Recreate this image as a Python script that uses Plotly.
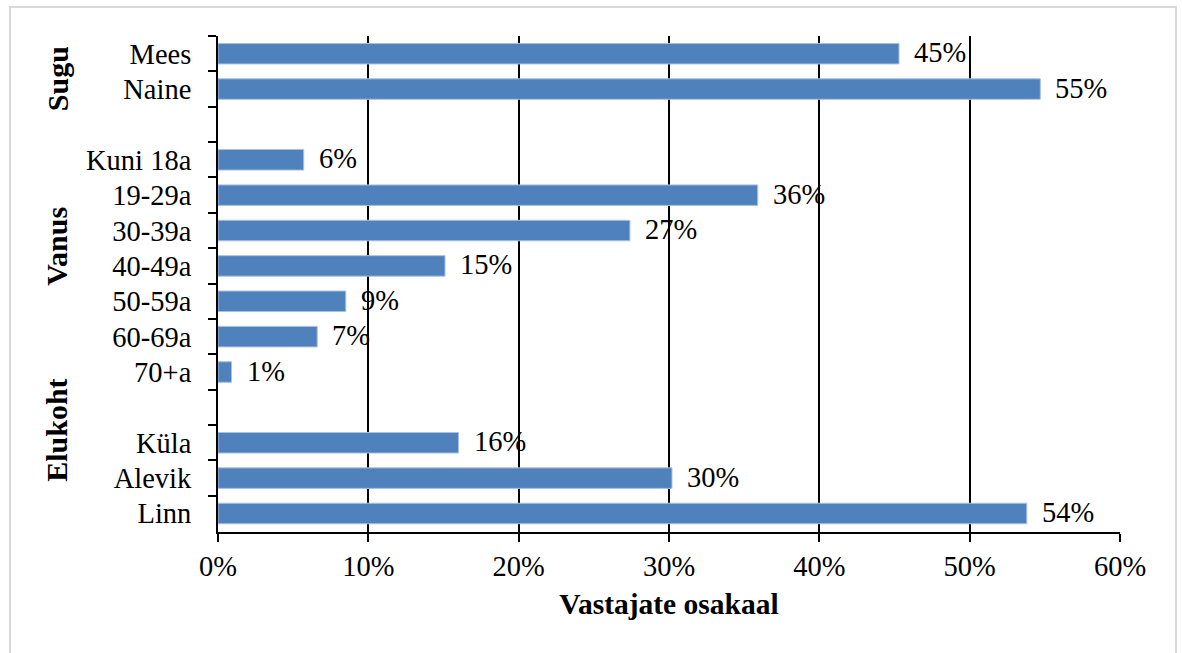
import plotly.graph_objects as go

# Kategooriad ülevalt alla; tühjad kohad rühmade vahel
categories = ["Mees", "Naine", " ", "Kuni 18a", "19-29a", "30-39a", "40-49a",
              "50-59a", "60-69a", "70+a", "  ", "Küla", "Alevik", "Linn"]
shares = [0.453, 0.547, None, 0.057, 0.359, 0.274, 0.151,
          0.085, 0.066, 0.009, None, 0.160, 0.302, 0.538]
labels = ["45%", "55%", "", "6%", "36%", "27%", "15%",
          "9%", "7%", "1%", "", "16%", "30%", "54%"]
groups = ["Sugu", "Vanus", "Elukoht"]
group_y = [0.915, 0.577, 0.206]

FONT = "Liberation Serif, Times New Roman, serif"
BAR = "#4F81BD"

fig = go.Figure(go.Bar(
    x=shares, y=categories, orientation="h", width=0.58,
    marker=dict(color=BAR, line=dict(color="#A9C1E0", width=1)),
    hoverinfo="skip",
))

for cat, val, lab in zip(categories, shares, labels):
    if val is None:
        continue
    fig.add_annotation(x=val, y=cat, text=lab, showarrow=False, xanchor="left",
                       xshift=13, yshift=1, font=dict(size=28.5, color="black", family=FONT))

for name, gy in zip(groups, group_y):
    fig.add_annotation(x=-0.1785, y=gy, xref="paper", yref="paper", text=f"<b>{name}</b>",
                       textangle=-90, showarrow=False, xanchor="center", yanchor="middle",
                       font=dict(size=30, color="black", family=FONT))

# hall raam ümber joonise
fig.add_shape(type="rect", xref="paper", yref="paper", x0=-0.2306, x1=1.0621, y0=-0.3, y1=1.0585,
              line=dict(color="#D9D9D9", width=2), layer="below")

fig.update_layout(
    width=1182, height=653,
    margin=dict(l=218, r=62, t=36, b=121),
    paper_bgcolor="white", plot_bgcolor="white",
    font=dict(family=FONT, size=28.5, color="black"),
    showlegend=False, bargap=0.42,
    xaxis=dict(
        range=[0, 0.6], dtick=0.1, tickformat=".0%",
        showgrid=True, gridcolor="black", gridwidth=1.5,
        zeroline=False, showline=True, linecolor="black", linewidth=2,
        ticks="outside", ticklen=8, tickwidth=2, tickcolor="black",
        title=dict(text="<b>Vastajate osakaal</b>", font=dict(size=29.5, family=FONT), standoff=12),
        tickfont=dict(size=28.5),
    ),
    yaxis=dict(
        type="category", categoryorder="array", categoryarray=categories,
        autorange="reversed", showgrid=False, zeroline=False,
        showline=True, linecolor="black", linewidth=2,
        ticks="outside", tickson="boundaries", ticklen=8, tickwidth=2, tickcolor="black",
        tickfont=dict(size=28.5), ticklabelstandoff=19,
    ),
)

fig.write_html("out.html", config={"displayModeBar": False},
               post_script="document.body.style.margin='0';")
